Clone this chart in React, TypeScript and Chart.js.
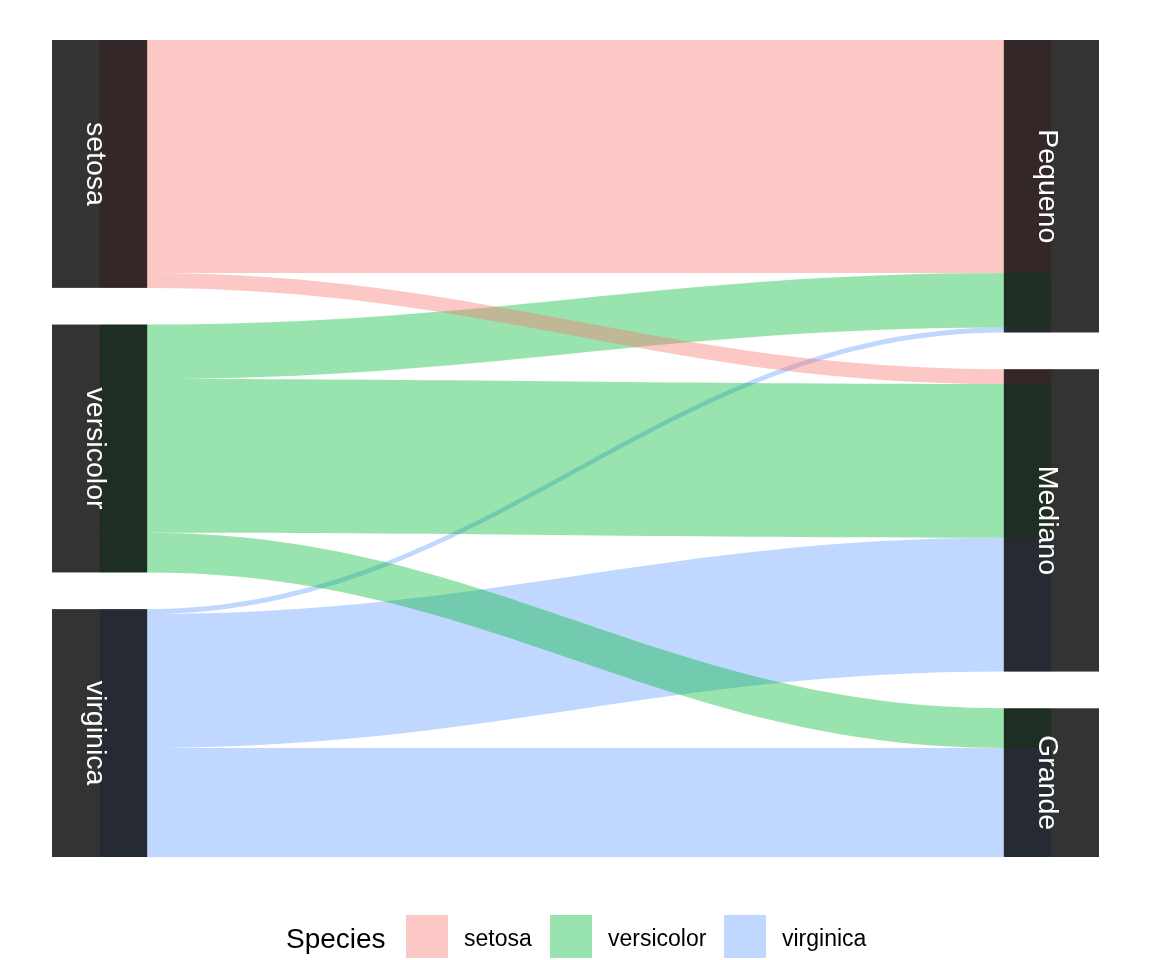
import { useEffect, useRef } from 'react';
import { Chart, registerables } from 'chart.js';

Chart.register(...registerables);

// Iris species vs. size class (counts of flowers)
const species = ['setosa', 'versicolor', 'virginica'];
const sizes = ['Pequeno', 'Mediano', 'Grande'];
const setosaCounts = [47, 3, 0];
const versicolorCounts = [11, 31, 8];
const virginicaCounts = [1, 27, 22];
const speciesColors = ['#F8766D', '#00BA38', '#619CFF'];

const counts = [setosaCounts, versicolorCounts, virginicaCounts];
const FONT = "'Liberation Sans', Arial, Helvetica, sans-serif";
const GAP = 7.4; // vertical gap between strata, in count units
const STRATUM_WIDTH = 0.1; // in axis units
const FLOW_ALPHA = 0.4;

const sum = (a: number[]) => a.reduce((s, v) => s + v, 0);
const total = sum(counts.map(sum));

function hexToRgba(hex: string, a: number) {
  const n = parseInt(hex.slice(1), 16);
  return `rgba(${(n >> 16) & 255}, ${(n >> 8) & 255}, ${n & 255}, ${a})`;
}

// stacked stratum positions for each axis
function strataStarts(totals: number[]) {
  const starts: number[] = [];
  let acc = 0;
  totals.forEach((t) => {
    starts.push(acc);
    acc += t + GAP;
  });
  return starts;
}

const leftTotals = counts.map(sum);
const rightTotals = sizes.map((_, j) => sum(counts.map((row) => row[j])));
const leftStarts = strataStarts(leftTotals);
const rightStarts = strataStarts(rightTotals);

const alluvialPlugin = {
  id: 'alluvial',
  afterDatasetsDraw(chart: any) {
    const { ctx } = chart;
    const xs = chart.scales.x;
    const ys = chart.scales.y;
    const xL = xs.getPixelForValue(1);
    const xLEdge = xs.getPixelForValue(1 + STRATUM_WIDTH / 2);
    const xR = xs.getPixelForValue(2);
    const xREdge = xs.getPixelForValue(2 - STRATUM_WIDTH / 2);
    const span = xREdge - xLEdge;
    const k = 0.4;

    // each flow: left offsets stacked by size within a species,
    // right offsets stacked by species within a size
    const flows: any[] = [];
    counts.forEach((row, i) => {
      let lOff = leftStarts[i];
      row.forEach((c, j) => {
        if (c > 0) flows.push({ i, j, l0: lOff, l1: lOff + c, r0: 0, r1: 0 });
        lOff += c;
      });
    });
    sizes.forEach((_, j) => {
      let off = rightStarts[j];
      species.forEach((__, i) => {
        const f = flows.find((fl) => fl.i === i && fl.j === j);
        if (f) {
          f.r0 = off;
          f.r1 = off + counts[i][j];
          off += counts[i][j];
        }
      });
    });

    ctx.save();

    // flows, last species drawn first
    for (let i = species.length - 1; i >= 0; i--) {
      flows
        .filter((f) => f.i === i)
        .forEach((f) => {
          const yl0 = ys.getPixelForValue(f.l0);
          const yl1 = ys.getPixelForValue(f.l1);
          const yr0 = ys.getPixelForValue(f.r0);
          const yr1 = ys.getPixelForValue(f.r1);
          ctx.beginPath();
          ctx.moveTo(xL, yl0);
          ctx.lineTo(xLEdge, yl0);
          ctx.bezierCurveTo(xLEdge + k * span, yl0, xREdge - k * span, yr0, xREdge, yr0);
          ctx.lineTo(xR, yr0);
          ctx.lineTo(xR, yr1);
          ctx.lineTo(xREdge, yr1);
          ctx.bezierCurveTo(xREdge - k * span, yr1, xLEdge + k * span, yl1, xLEdge, yl1);
          ctx.lineTo(xL, yl1);
          ctx.closePath();
          ctx.fillStyle = hexToRgba(speciesColors[i], FLOW_ALPHA);
          ctx.fill();
        });
    }

    // strata with rotated labels
    const drawStrata = (axisX: number, names: string[], starts: number[], totals: number[]) => {
      const x0 = xs.getPixelForValue(axisX - STRATUM_WIDTH / 2);
      const x1 = xs.getPixelForValue(axisX + STRATUM_WIDTH / 2);
      names.forEach((name, idx) => {
        const y0 = ys.getPixelForValue(starts[idx]);
        const y1 = ys.getPixelForValue(starts[idx] + totals[idx]);
        ctx.fillStyle = 'rgba(0, 0, 0, 0.8)';
        ctx.fillRect(x0, y0, x1 - x0, y1 - y0);
        const cx = (x0 + x1) / 2;
        const cy = (y0 + y1) / 2;
        ctx.save();
        ctx.translate(cx, cy);
        ctx.rotate(Math.PI / 2);
        ctx.fillStyle = '#FFFFFF';
        ctx.font = `28.5px ${FONT}`;
        ctx.textAlign = 'center';
        ctx.textBaseline = 'alphabetic';
        ctx.fillText(name, 0, 12.5);
        ctx.restore();
      });
    };
    drawStrata(1, species, leftStarts, leftTotals);
    drawStrata(2, sizes, rightStarts, rightTotals);

    // legend
    ctx.fillStyle = '#000000';
    ctx.textAlign = 'left';
    ctx.textBaseline = 'alphabetic';
    ctx.font = `28px ${FONT}`;
    ctx.fillText('Species', 286, 947.5);
    const keyX = [406, 550, 724];
    const keyTop = 915;
    const keyW = 42;
    const keyH = 43;
    species.forEach((name, i) => {
      ctx.fillStyle = hexToRgba(speciesColors[i], FLOW_ALPHA);
      ctx.fillRect(keyX[i], keyTop, keyW, keyH);
      ctx.fillStyle = '#000000';
      ctx.font = `23px ${FONT}`;
      ctx.fillText(name, keyX[i] + keyW + 16, 946);
    });

    ctx.restore();
  },
};

export default function App() {
  const canvasRef = useRef<HTMLCanvasElement | null>(null);

  useEffect(() => {
    const canvas = canvasRef.current;
    if (!canvas) return;
    const chart = new Chart(canvas, {
      type: 'scatter',
      data: {
        datasets: species.map((name, i) => ({
          label: name,
          data: [{ x: 1, y: leftStarts[i] + leftTotals[i] / 2 }],
          pointRadius: 0,
          backgroundColor: hexToRgba(speciesColors[i], FLOW_ALPHA),
        })),
      },
      options: {
        responsive: false,
        devicePixelRatio: 1,
        animation: false,
        layout: { padding: { left: 52, right: 53, top: 40, bottom: 103 } },
        plugins: {
          legend: { display: false },
          tooltip: { enabled: false },
        },
        scales: {
          x: { type: 'linear', display: false, min: 1 - STRATUM_WIDTH / 2, max: 2 + STRATUM_WIDTH / 2 },
          y: { type: 'linear', display: false, reverse: true, min: 0, max: total + 2 * GAP },
        },
      },
      plugins: [alluvialPlugin],
    });
    return () => chart.destroy();
  }, []);

  return (
    <div style={{ position: 'fixed', left: 0, top: 0, width: 1152, height: 960, background: '#FFFFFF' }}>
      <canvas ref={canvasRef} width={1152} height={960} style={{ display: 'block' }} />
    </div>
  );
}
